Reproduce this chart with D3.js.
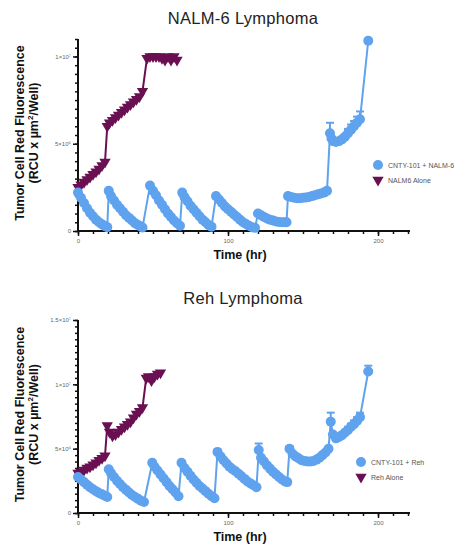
<!DOCTYPE html>
<html>
<head>
<meta charset="utf-8">
<script src="https://cdn.jsdelivr.net/npm/d3@7"></script>
<style>
  body { margin: 0; background: #fff; }
  svg { font-family: 'Liberation Sans', Arial, sans-serif; }
  .title { font-size: 16.5px; fill: #222; text-anchor: middle; letter-spacing: 0.3px; }
  .axis-label { font-size: 12.5px; font-weight: bold; fill: #111; text-anchor: middle; }
  .tick text { font-size: 6px; fill: #666; }
  .legend text { font-size: 7px; fill: #555; }
</style>
</head>
<body>
<svg width="470" height="550"></svg>
<script>
const svg = d3.select('svg');

// values in units of 1e6 RCU x um2/well, time in hr
const nalmCnty = [
  [0,2.2],[2,1.9],[4,1.6],[6,1.3],[8,1.05],[10,0.85],[12,0.65],[14,0.5],[16,0.38],[18,0.28],[19.5,0.22],
  [20.5,2.3],[22,2.0],[24,1.75],[26,1.5],[28,1.3],[30,1.1],[32,0.9],[34,0.75],[36,0.6],[38,0.45],[40,0.35],[42,0.25],[43,0.2],
  [48,2.6],[50,2.3],[52,2.05],[54,1.75],[56,1.5],[58,1.25],[60,1.0],[62,0.8],[64,0.6],[66,0.45],[68,0.3],
  [69.5,2.2],[71,1.95],[73,1.7],[75,1.45],[77,1.25],[79,1.05],[81,0.85],[83,0.65],[85,0.5],[87,0.35],[89,0.25],
  [92,2.0],[94,1.8],[96,1.6],[98,1.4],[100,1.25],[102,1.1],[104,0.95],[106,0.8],[108,0.65],[110,0.5],[112,0.4],[114,0.3],[116,0.22],[118,0.18],
  [120,1.0],[122,0.9],[124,0.8],[126,0.72],[128,0.65],[130,0.6],[132,0.55],[134,0.52],[136,0.5],[138,0.5],[139,0.5],
  [140,2.0],[142,1.95],[144,1.9],[146,1.88],[148,1.88],[150,1.9],[152,1.92],[154,1.95],[156,2.0],[158,2.05],[160,2.1],[162,2.15],[164,2.2],[166,2.3],
  [168,5.6],[169,5.3],[170,5.15],[172,5.1],[174,5.15],[176,5.25],[178,5.4],[180,5.6],[182,5.8],[184,6.0],[186,6.2],[188,6.4],
  [193.5,10.9]
];
const nalmCntyErr = [[168,0.6],[180,0.25],[182,0.3],[184,0.3],[186,0.35],[188,0.45]];

const nalmAlone = [
  [0,2.5],[2,2.65],[4,2.8],[6,2.95],[8,3.1],[10,3.25],[12,3.4],[14,3.55],[16,3.75],[18,3.95],
  [19.5,6.0],[21,6.2],[23,6.35],[25,6.5],[27,6.65],[29,6.8],[31,6.95],[33,7.1],[35,7.25],[37,7.4],[39,7.55],[41,7.7],[43,8.0],
  [46,9.9],[48,10.0],[50,10.0],[52,10.0],[54,10.0],[56,9.9],[58,9.8],[60,10.0],[62,9.8],[64,10.0],[66,9.8]
];

const rehCnty = [
  [0,2.8],[2,2.6],[4,2.4],[6,2.2],[8,2.0],[10,1.85],[12,1.7],[14,1.55],[16,1.45],[18,1.35],[19.5,1.25],
  [20.5,3.4],[22,3.1],[24,2.8],[26,2.5],[28,2.25],[30,2.0],[32,1.8],[34,1.6],[36,1.4],[38,1.25],[40,1.1],[42,0.95],[44,0.85],
  [49.5,3.9],[51,3.6],[53,3.3],[55,3.0],[57,2.7],[59,2.4],[61,2.1],[63,1.85],[65,1.6],[67,1.3],
  [69,3.9],[71,3.5],[73,3.2],[75,2.9],[77,2.6],[79,2.35],[81,2.1],[83,1.9],[85,1.7],[87,1.5],[89,1.3],[91,1.15],
  [93,4.75],[95,4.4],[97,4.1],[99,3.85],[101,3.6],[103,3.4],[105,3.25],[107,3.05],[109,2.85],[111,2.65],[113,2.45],[115,2.3],[117,2.15],[119,2.0],
  [120.5,4.9],[122,4.3],[124,4.0],[126,3.7],[128,3.45],[130,3.2],[132,3.0],[134,2.8],[136,2.6],[138,2.45],[139.5,2.4],
  [141,5.0],[143,4.6],[145,4.4],[147,4.25],[149,4.1],[151,4.05],[153,4.0],[155,4.0],[157,4.05],[159,4.15],[161,4.3],[163,4.5],[165,4.7],[167,5.0],
  [168.5,7.1],[170,6.1],[172,5.8],[174,5.9],[176,6.05],[178,6.25],[180,6.45],[182,6.7],[184,6.9],[186,7.15],[188,7.45],
  [193.5,11.0]
];
const rehCntyErr = [[120.5,0.5],[141,0.2],[168.5,0.7],[180,0.25],[182,0.25],[184,0.3],[186,0.3],[188,0.35],[193.5,0.45]];

const rehAlone = [
  [0,3.1],[2,3.2],[4,3.35],[6,3.5],[8,3.6],[10,3.75],[12,3.9],[14,4.1],[16,4.25],[18,4.45],
  [19.5,6.8],[21,6.3],[23,6.0],[25,6.1],[27,6.3],[29,6.5],[31,6.7],[33,6.9],[35,7.1],[37,7.4],[39,7.7],[41,7.9],[43,8.2],
  [45.5,10.5],[47,10.6],[49,10.3],[51,10.6],[53,10.8],[55,10.9]
];

const xTicks = [0, 100, 200];
const nalmYTicks = [0, 5, 10];
const nalmYLabels = ['0', '5×10⁶', '1×10⁷'];
const rehYTicks = [0, 5, 10, 15];
const rehYLabels = ['0', '5×10⁶', '1×10⁷', '1.5×10⁷'];

const blue = '#5fa2ee';
const purple = '#6a0f52';

const drawPanel = opts => {
  const g = svg.append('g');

  const xScale = d3.scaleLinear().domain([0, 220]).range([78, 408]);
  const yScale = d3.scaleLinear().domain([0, opts.yMax]).range([opts.bottom, opts.top]);

  g.append('text').attr('class', 'title')
    .attr('x', 243).attr('y', opts.titleY).text(opts.title);

  // y axis: minor ticks then major
  const yMinor = d3.range(0, opts.yMax + 0.01, 0.5);
  g.append('g').attr('transform', 'translate(78,0)')
    .call(d3.axisLeft(yScale).tickValues(yMinor).tickSize(3).tickFormat(''))
    .call(a => a.select('.domain').remove())
    .selectAll('line').attr('stroke', '#111').attr('stroke-width', 1.5);
  const yAxisG = g.append('g').attr('transform', 'translate(78,0)')
    .call(d3.axisLeft(yScale).tickValues(opts.yTicks).tickSize(5).tickPadding(2)
      .tickFormat((d, i) => opts.yLabels[i]));
  yAxisG.select('.domain').attr('stroke', '#111').attr('stroke-width', 2)
    .attr('d', `M0,${opts.top}V${opts.bottom}`);
  yAxisG.selectAll('line').attr('stroke', '#111').attr('stroke-width', 1.5);

  // x axis
  g.append('g').attr('transform', `translate(0,${opts.bottom})`)
    .call(d3.axisBottom(xScale).tickValues(d3.range(0, 221, 10)).tickSize(3).tickFormat(''))
    .call(a => a.select('.domain').remove())
    .selectAll('line').attr('stroke', '#111').attr('stroke-width', 1.5);
  const xAxisG = g.append('g').attr('transform', `translate(0,${opts.bottom})`)
    .call(d3.axisBottom(xScale).tickValues(xTicks).tickSize(5).tickPadding(3));
  xAxisG.select('.domain').attr('stroke', '#111').attr('stroke-width', 2)
    .attr('d', `M78,0H410`);
  xAxisG.selectAll('line').attr('stroke', '#111').attr('stroke-width', 1.5);

  g.append('text').attr('class', 'axis-label')
    .attr('x', 240).attr('y', opts.bottom + 28).text('Time (hr)');

  const midY = (opts.top + opts.bottom) / 2 - 2;
  g.append('text').attr('class', 'axis-label')
    .attr('transform', `translate(24,${midY}) rotate(-90)`)
    .text('Tumor Cell Red Fluorescence');
  const yl2 = g.append('text').attr('class', 'axis-label')
    .attr('transform', `translate(38,${midY}) rotate(-90)`);
  yl2.append('tspan').text('(RCU x µm');
  yl2.append('tspan').attr('dy', -5).attr('font-size', 8).text('2');
  yl2.append('tspan').attr('dy', 5).text('/Well)');

  const line = d3.line().x(d => xScale(d[0])).y(d => yScale(d[1]));

  // alone series (purple)
  g.append('path').attr('d', line(opts.alone))
    .attr('fill', 'none').attr('stroke', purple).attr('stroke-width', 2);
  const tri = d3.symbol().type(d3.symbolTriangle).size(55);
  g.selectAll('.tri').data(opts.alone).enter().append('path')
    .attr('d', tri)
    .attr('transform', d => `translate(${xScale(d[0])},${yScale(d[1])}) rotate(180)`)
    .attr('fill', purple);

  // CNTY series (blue)
  g.append('path').attr('d', line(opts.cnty))
    .attr('fill', 'none').attr('stroke', blue).attr('stroke-width', 2);
  const errLookup = new Map(opts.cnty.map(d => [d[0], d[1]]));
  opts.err.forEach(e => {
    const x = xScale(e[0]);
    const v = errLookup.get(e[0]);
    g.append('line').attr('x1', x).attr('x2', x)
      .attr('y1', yScale(v)).attr('y2', yScale(v + e[1]))
      .attr('stroke', blue).attr('stroke-width', 2);
    g.append('line').attr('x1', x - 4).attr('x2', x + 4)
      .attr('y1', yScale(v + e[1])).attr('y2', yScale(v + e[1]))
      .attr('stroke', blue).attr('stroke-width', 2);
  });
  g.selectAll('.dot').data(opts.cnty).enter().append('circle')
    .attr('cx', d => xScale(d[0])).attr('cy', d => yScale(d[1]))
    .attr('r', 5).attr('fill', blue);

  // legend
  const lg = g.append('g').attr('class', 'legend')
    .attr('transform', `translate(${opts.legendX},${opts.legendY})`);
  lg.append('circle').attr('cx', 0).attr('cy', 0).attr('r', 5).attr('fill', blue);
  lg.append('text').attr('x', 10).attr('y', 2.5).text(opts.legend[0]);
  lg.append('path').attr('d', tri)
    .attr('transform', 'translate(0,15) rotate(180)').attr('fill', purple);
  lg.append('text').attr('x', 10).attr('y', 17.5).text(opts.legend[1]);
};

drawPanel({
  title: 'NALM-6 Lymphoma', titleY: 24,
  top: 39, bottom: 231, yMax: 11,
  yTicks: nalmYTicks, yLabels: nalmYLabels,
  cnty: nalmCnty, err: nalmCntyErr, alone: nalmAlone,
  legend: ['CNTY-101 + NALM-6', 'NALM6 Alone'],
  legendX: 378, legendY: 165
});

drawPanel({
  title: 'Reh Lymphoma', titleY: 304,
  top: 320, bottom: 513, yMax: 15,
  yTicks: rehYTicks, yLabels: rehYLabels,
  cnty: rehCnty, err: rehCntyErr, alone: rehAlone,
  legend: ['CNTY-101 + Reh', 'Reh Alone'],
  legendX: 361, legendY: 462
});
</script>
</body>
</html>
